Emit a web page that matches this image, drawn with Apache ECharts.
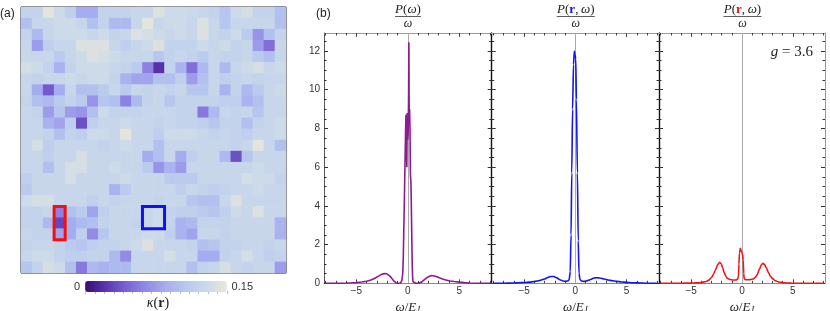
<!DOCTYPE html>
<html><head><meta charset="utf-8">
<script src="https://cdn.jsdelivr.net/npm/echarts@6/dist/echarts.min.js"></script>
<style>html,body{margin:0;padding:0;background:#fff}#c{width:830px;height:311px}</style>
</head><body><div id="c"></div>
<script>
// ---------- data ----------
const kappaRows = [
[0.12,0.12,0.145,0.13,0.115,0.085,0.085,0.12,0.12,0.12,0.125,0.125,0.14,0.13,0.13,0.128,0.125,0.12,0.105,0.13,0.135,0.12,0.12,0.10],
[0.10,0.125,0.125,0.13,0.13,0.125,0.10,0.12,0.095,0.095,0.125,0.145,0.125,0.13,0.13,0.125,0.14,0.125,0.105,0.125,0.125,0.125,0.125,0.10],
[0.12,0.095,0.125,0.13,0.13,0.13,0.125,0.13,0.12,0.125,0.14,0.135,0.13,0.125,0.13,0.125,0.14,0.125,0.12,0.13,0.11,0.07,0.10,0.12],
[0.125,0.075,0.115,0.125,0.125,0.14,0.14,0.14,0.125,0.115,0.125,0.13,0.14,0.12,0.12,0.12,0.13,0.125,0.13,0.12,0.125,0.075,0.05,0.125],
[0.125,0.125,0.125,0.11,0.125,0.13,0.14,0.135,0.13,0.125,0.125,0.125,0.105,0.12,0.125,0.12,0.11,0.125,0.12,0.12,0.125,0.11,0.10,0.125],
[0.135,0.13,0.12,0.09,0.12,0.13,0.13,0.13,0.125,0.12,0.11,0.06,0.02,0.12,0.09,0.05,0.095,0.125,0.095,0.125,0.13,0.135,0.125,0.13],
[0.125,0.12,0.125,0.125,0.13,0.125,0.13,0.13,0.12,0.09,0.08,0.08,0.10,0.10,0.115,0.075,0.10,0.125,0.115,0.12,0.125,0.12,0.125,0.125],
[0.125,0.085,0.04,0.085,0.125,0.10,0.10,0.11,0.125,0.11,0.125,0.12,0.125,0.12,0.125,0.105,0.105,0.125,0.09,0.12,0.095,0.11,0.125,0.13],
[0.12,0.10,0.095,0.11,0.12,0.11,0.07,0.105,0.10,0.06,0.095,0.12,0.125,0.105,0.12,0.12,0.12,0.12,0.115,0.115,0.09,0.10,0.125,0.125],
[0.125,0.12,0.075,0.105,0.075,0.07,0.10,0.13,0.12,0.12,0.12,0.125,0.125,0.125,0.12,0.12,0.055,0.095,0.125,0.12,0.125,0.105,0.125,0.125],
[0.125,0.125,0.09,0.08,0.115,0.035,0.115,0.125,0.125,0.13,0.125,0.125,0.12,0.125,0.12,0.12,0.115,0.105,0.12,0.12,0.10,0.12,0.125,0.13],
[0.125,0.125,0.12,0.10,0.12,0.115,0.13,0.13,0.125,0.145,0.125,0.125,0.115,0.13,0.13,0.13,0.125,0.12,0.125,0.12,0.115,0.125,0.125,0.13],
[0.125,0.135,0.115,0.125,0.125,0.125,0.125,0.12,0.125,0.13,0.125,0.125,0.10,0.125,0.125,0.125,0.125,0.125,0.125,0.12,0.125,0.145,0.125,0.10],
[0.125,0.125,0.115,0.125,0.125,0.135,0.125,0.125,0.125,0.125,0.125,0.085,0.10,0.125,0.085,0.115,0.125,0.125,0.095,0.035,0.105,0.125,0.125,0.125],
[0.125,0.125,0.10,0.125,0.135,0.135,0.125,0.125,0.13,0.125,0.125,0.11,0.07,0.09,0.075,0.125,0.125,0.125,0.125,0.125,0.125,0.13,0.125,0.125],
[0.115,0.125,0.125,0.125,0.135,0.125,0.125,0.125,0.125,0.13,0.125,0.125,0.125,0.11,0.11,0.11,0.125,0.125,0.125,0.125,0.135,0.13,0.13,0.12],
[0.11,0.125,0.125,0.125,0.125,0.125,0.125,0.125,0.09,0.11,0.125,0.125,0.125,0.125,0.115,0.125,0.12,0.115,0.12,0.125,0.125,0.13,0.125,0.125],
[0.13,0.135,0.135,0.125,0.125,0.125,0.115,0.125,0.12,0.125,0.125,0.125,0.12,0.125,0.125,0.105,0.10,0.10,0.125,0.14,0.125,0.125,0.125,0.125],
[0.12,0.12,0.125,0.06,0.10,0.11,0.08,0.115,0.125,0.125,0.125,0.125,0.13,0.12,0.115,0.115,0.11,0.105,0.115,0.13,0.125,0.14,0.125,0.125],
[0.12,0.12,0.095,0.03,0.085,0.095,0.10,0.12,0.125,0.125,0.12,0.125,0.13,0.12,0.09,0.095,0.12,0.12,0.12,0.125,0.125,0.125,0.125,0.09],
[0.125,0.12,0.12,0.08,0.085,0.115,0.065,0.105,0.125,0.125,0.125,0.13,0.13,0.115,0.09,0.08,0.125,0.125,0.12,0.125,0.125,0.125,0.125,0.09],
[0.12,0.125,0.125,0.12,0.11,0.105,0.115,0.12,0.12,0.125,0.13,0.14,0.125,0.125,0.125,0.12,0.10,0.105,0.12,0.12,0.125,0.125,0.12,0.125],
[0.125,0.13,0.13,0.12,0.115,0.115,0.12,0.12,0.095,0.065,0.125,0.125,0.125,0.135,0.125,0.125,0.085,0.085,0.12,0.125,0.135,0.125,0.115,0.12],
[0.105,0.12,0.135,0.13,0.10,0.055,0.095,0.09,0.095,0.095,0.125,0.125,0.125,0.125,0.125,0.10,0.12,0.125,0.135,0.125,0.12,0.125,0.125,0.075]
];
const kappaMin = 0, kappaMax = 0.15;
const kappaLabels = ['0.15', '0'];
const kappaTicks = [0,0.01,0.02,0.03,0.04,0.05,0.06,0.07,0.08,0.09,0.10,0.11,0.12,0.13,0.14,0.15];
// boxes: [col0,row0,col1,row1]
const redBox = [3, 18, 3, 20];
const blueBox = [11, 18, 12, 19];

const omegaMajor = [-5, 0, 5];
const omegaMinor = [-8,-7,-6,-4,-3,-2,-1,1,2,3,4,6,7,8];
const pMajor = [0, 2, 4, 6, 8, 10, 12];
const pMinor = [0.5,1,1.5,2.5,3,3.5,4.5,5,5.5,6.5,7,7.5,8.5,9,9.5,10.5,11,11.5,12.5];

const totalP = [[-8,0],[-7,0.003],[-6.5,0.006],[-6,0.012],[-5.5,0.025],[-5,0.04],[-4.5,0.07],[-4,0.11],[-3.6,0.17],[-3.2,0.26],[-2.9,0.36],[-2.6,0.45],[-2.3,0.5],[-2.05,0.49],[-1.8,0.4],[-1.6,0.28],[-1.4,0.14],[-1.25,0.05],[-1.1,0.01],[-0.9,0],[-0.7,0.02],[-0.58,0.15],[-0.5,0.5],[-0.45,1.2],[-0.4,2.6],[-0.33,4.6],[-0.27,6.4],[-0.22,7.9],[-0.18,8.7],[-0.14,7.2],[-0.1,6.0],[-0.06,8.8],[-0.02,7.4],[0.03,7.8],[0.07,9.5],[0.1,12.45],[0.13,8.6],[0.17,9.0],[0.21,7.9],[0.25,5.6],[0.3,5.2],[0.34,4.0],[0.38,2.5],[0.42,1.1],[0.46,0.35],[0.5,0.08],[0.6,0.01],[0.8,0],[1.1,0.01],[1.3,0.05],[1.5,0.14],[1.8,0.27],[2.0,0.34],[2.3,0.4],[2.6,0.38],[2.9,0.32],[3.3,0.24],[3.7,0.17],[4.1,0.12],[4.5,0.09],[5.0,0.06],[5.5,0.035],[6.0,0.015],[7.0,0.003],[8.0,0]];
const blueP = [[-8,0],[-7,0.005],[-6,0.015],[-5.5,0.025],[-5,0.04],[-4.5,0.06],[-4,0.09],[-3.5,0.14],[-3,0.22],[-2.7,0.3],[-2.4,0.35],[-2.1,0.35],[-1.8,0.28],[-1.5,0.18],[-1.2,0.12],[-0.9,0.1],[-0.7,0.13],[-0.6,0.2],[-0.5,0.6],[-0.42,2.5],[-0.35,5.7],[-0.27,9.0],[-0.18,11.3],[-0.1,12.0],[-0.03,11.8],[0.04,11.6],[0.1,9.5],[0.2,5.7],[0.28,2.2],[0.36,0.5],[0.45,0.2],[0.6,0.12],[0.9,0.1],[1.2,0.14],[1.5,0.2],[1.8,0.27],[2.1,0.29],[2.4,0.27],[2.8,0.22],[3.2,0.17],[3.6,0.13],[4.0,0.1],[4.5,0.07],[5.0,0.05],[5.5,0.03],[6,0.02],[7,0.005],[8,0]];
const redP = [[-8,0],[-6,0.005],[-5,0.01],[-4.5,0.02],[-4,0.04],[-3.6,0.08],[-3.3,0.15],[-3.0,0.3],[-2.8,0.47],[-2.6,0.7],[-2.4,0.95],[-2.2,1.08],[-2.05,1.02],[-1.9,0.8],[-1.75,0.55],[-1.6,0.38],[-1.45,0.26],[-1.2,0.2],[-0.9,0.17],[-0.6,0.17],[-0.45,0.2],[-0.35,0.35],[-0.3,1.0],[-0.25,1.55],[-0.17,1.81],[-0.1,1.72],[-0.02,1.6],[0.05,1.5],[0.12,1.2],[0.17,0.5],[0.22,0.22],[0.4,0.18],[0.8,0.19],[1.1,0.22],[1.3,0.3],[1.5,0.45],[1.7,0.72],[1.9,0.95],[2.05,1.03],[2.2,0.98],[2.4,0.8],[2.6,0.55],[2.8,0.36],[3.0,0.24],[3.3,0.13],[3.6,0.07],[4.0,0.035],[4.5,0.015],[5.0,0.005],[6,0],[8,0]];

// ---------- build ----------
const heatData = [];
kappaRows.forEach((row, r) => row.forEach((v, c) => heatData.push([c, r, v])));
const cats = kappaRows[0].map((_, i) => String(i));

const serif = 'Liberation Serif';
const sans = 'Liberation Sans';
const panels = [
  {left: 324, width: 167.7, color: '#8e1a90', data: totalP, leftLine: '#555', labels: true, smooth: false},
  {left: 491.7, width: 167.3, color: '#1515ee', data: blueP, leftLine: '#111', labels: false, smooth: 0.25},
  {left: 659, width: 166, color: '#ee1515', data: redP, leftLine: '#111', labels: false, smooth: 0.25}
];
const grids = [{left: 21, top: 7, width: 265, height: 266, show: true, borderColor: '#000', borderWidth: 1, backgroundColor: 'transparent', outerBoundsMode: 'none'}];
panels.forEach(p => grids.push({left: p.left, top: 33, width: p.width, height: 250.3, outerBoundsMode: 'none'}));
grids.push({left: 85.5, top: 290, width: 141.5, height: 1, outerBoundsMode: 'none'});

const xAxes = [
  {type: 'category', gridIndex: 0, data: cats, show: false},
  {type: 'value', gridIndex: 4, min: kappaMin, max: kappaMax, axisLine: {show: false, onZero: false}, axisLabel: {show: false}, splitLine: {show: false},
   axisTick: {inside: false, length: 3, customValues: kappaTicks, lineStyle: {color: '#bbb'}}}
];
const yAxes = [
  {type: 'category', gridIndex: 0, data: cats, inverse: true, show: false},
  {type: 'value', gridIndex: 4, show: false}
];
const fmt = v => v < 0 ? '\u2212' + Math.abs(v) : String(v);
panels.forEach((p, i) => {
  const g = i + 1;
  const base = {type: 'value', gridIndex: g, min: -8.16, max: 8.16, splitLine: {show: false}};
  xAxes.push(Object.assign({}, base, {position: 'bottom',
    axisLine: {onZero: false, lineStyle: {color: '#888', width: 1}},
    axisTick: {inside: true, length: 4, customValues: omegaMajor, lineStyle: {color: '#444'}},
    axisLabel: {customValues: omegaMajor, formatter: fmt, margin: 3, fontSize: 10, fontFamily: sans, color: '#333'},
    name: '{a|\u03c9}{n|/}{a|E}{b|J}', nameLocation: 'middle', nameGap: 10,
    nameTextStyle: {rich: {a: {fontFamily: serif, fontStyle: 'italic', fontSize: 13, color: '#222'}, n: {fontFamily: serif, fontSize: 13, color: '#222'}, b: {fontFamily: serif, fontStyle: 'italic', fontSize: 9, color: '#222', padding: [3, 0, 0, 0]}}}}));
  xAxes.push(Object.assign({}, base, {position: 'bottom', axisLine: {show: false, onZero: false}, axisLabel: {show: false},
    axisTick: {inside: true, length: 2.5, customValues: omegaMinor, lineStyle: {color: '#444'}}}));
  xAxes.push(Object.assign({}, base, {position: 'top', axisLine: {onZero: false, lineStyle: {color: '#999', width: 1}}, axisLabel: {show: false},
    axisTick: {inside: true, length: 4, customValues: omegaMajor, lineStyle: {color: '#444'}}}));
  xAxes.push(Object.assign({}, base, {position: 'top', axisLine: {show: false, onZero: false}, axisLabel: {show: false},
    axisTick: {inside: true, length: 2.5, customValues: omegaMinor, lineStyle: {color: '#444'}}}));
  const ybase = {type: 'value', gridIndex: g, min: 0, max: 12.93, splitLine: {show: false}};
  yAxes.push(Object.assign({}, ybase, {position: 'left', axisLine: {show: true, onZero: false, lineStyle: {color: p.leftLine, width: i ? 1.4 : 1}},
    axisTick: {show: true, inside: true, length: 4, customValues: pMajor, lineStyle: {color: '#333'}},
    axisLabel: {show: p.labels, customValues: pMajor, margin: 4, fontSize: 10, fontFamily: sans, color: '#333'}}));
  yAxes.push(Object.assign({}, ybase, {position: 'left', axisLine: {show: false, onZero: false}, axisLabel: {show: false},
    axisTick: {show: true, inside: true, length: 2.5, customValues: pMinor, lineStyle: {color: '#333'}}}));
  yAxes.push(Object.assign({}, ybase, {position: 'right', axisLine: {show: i === 2, onZero: false, lineStyle: {color: '#999'}}, axisLabel: {show: false},
    axisTick: {show: true, inside: true, length: 4, customValues: pMajor, lineStyle: {color: '#333'}}}));
  yAxes.push(Object.assign({}, ybase, {position: 'right', axisLine: {show: false, onZero: false}, axisLabel: {show: false},
    axisTick: {show: true, inside: true, length: 2.5, customValues: pMinor, lineStyle: {color: '#333'}}}));
});

const series = [
  {type: 'heatmap', xAxisIndex: 0, yAxisIndex: 0, data: heatData, emphasis: {disabled: true}, progressive: 0},
  {type: 'custom', xAxisIndex: 0, yAxisIndex: 0, silent: true, z: 5,
   data: [redBox.concat([0]), blueBox.concat([1])],
   renderItem: (params, api) => {
     const p0 = api.coord([api.value(0), api.value(1)]);
     const p1 = api.coord([api.value(2), api.value(3)]);
     const s = api.size([1, 1]);
     return {type: 'rect', shape: {x: Math.min(p0[0], p1[0]) - s[0] / 2, y: Math.min(p0[1], p1[1]) - s[1] / 2,
       width: Math.abs(p1[0] - p0[0]) + s[0], height: Math.abs(p1[1] - p0[1]) + s[1]},
       style: {fill: 'none', stroke: api.value(4) ? '#1010f0' : '#f01010', lineWidth: 3}};
   }}
];
panels.forEach((p, i) => {
  series.push({type: 'line', xAxisIndex: 2 + 4 * i, yAxisIndex: 2 + 4 * i, data: p.data, showSymbol: false, symbol: 'none',
    smooth: p.smooth, smoothMonotone: 'x', lineStyle: {color: p.color, width: 1.6}, silent: true, animation: false, z: 3,
    markLine: {silent: true, z: 1, symbol: 'none', label: {show: false}, lineStyle: {color: '#aaa', width: 1, type: 'solid'}, data: [{xAxis: 0}]}});
});

// titles (fractions)
const graphics = [
  {type: 'text', left: 0, top: 8, style: {text: '(a)', font: '12px ' + sans, fill: '#222'}},
  {type: 'text', left: 316, top: 8, style: {text: '(b)', font: '12px ' + sans, fill: '#222'}},
  {type: 'text', x: 158, y: 303, style: {text: '{a|\u03ba}{n|(}{b|r}{n|)}', align: 'center', verticalAlign: 'middle',
    rich: {a: {fontFamily: serif, fontStyle: 'italic', fontSize: 14, fill: '#222'}, n: {fontFamily: serif, fontSize: 14, fill: '#222'}, b: {fontFamily: serif, fontWeight: 'bold', fontSize: 14, fill: '#222'}}}},
  {type: 'text', x: 813, y: 52, style: {text: '{a|g}{n| = 3.6}', align: 'right', verticalAlign: 'middle',
    rich: {a: {fontFamily: serif, fontStyle: 'italic', fontSize: 15, fill: '#222'}, n: {fontFamily: serif, fontSize: 15, fill: '#222'}}}}
];
const titleDefs = [
  {cx: 408, w: 26, num: '{i|P}{n|(}{i|\u03c9}{n|)}', rc: null},
  {cx: 575.8, w: 38, num: '{i|P}{n|(}{r|r}{n|,\u2009}{i|\u03c9}{n|)}', rc: '#1515ee'},
  {cx: 742.5, w: 38, num: '{i|P}{n|(}{r|r}{n|,\u2009}{i|\u03c9}{n|)}', rc: '#ee1515'}
];
titleDefs.forEach(t => {
  graphics.push({type: 'text', x: t.cx, y: 10, style: {text: t.num, align: 'center', verticalAlign: 'middle',
    rich: {i: {fontFamily: serif, fontStyle: 'italic', fontSize: 13, fill: '#222'}, n: {fontFamily: serif, fontSize: 13, fill: '#222'},
           r: {fontFamily: serif, fontWeight: 'bold', fontSize: 13, fill: t.rc || '#222'}}}});
  graphics.push({type: 'line', shape: {x1: t.cx - t.w / 2, y1: 16.5, x2: t.cx + t.w / 2, y2: 16.5}, style: {stroke: '#333', lineWidth: 0.8}});
  graphics.push({type: 'text', x: t.cx, y: 24, style: {text: '\u03c9', align: 'center', verticalAlign: 'middle',
    font: 'italic 12px ' + serif, fill: '#222'}});
});

const chart = echarts.init(document.getElementById('c'), null, {renderer: 'canvas'});
chart.setOption({
  animation: false,
  grid: grids,
  xAxis: xAxes,
  yAxis: yAxes,
  visualMap: {type: 'continuous', seriesIndex: 0, min: kappaMin, max: kappaMax, orient: 'horizontal', left: 59, top: 266,
    itemWidth: 11, itemHeight: 141.5, calculable: false, hoverLink: false, text: kappaLabels, textGap: 5,
    textStyle: {fontSize: 11, fontFamily: sans, color: '#333'},
    inRange: {color: ['#3a0a70', '#5a34ae', '#7860d2', '#928ae6', '#a6aef0', '#b8c9ee', '#cbd9ea', '#ece7da']}},
  series: series,
  graphic: graphics
});
</script></body></html>
